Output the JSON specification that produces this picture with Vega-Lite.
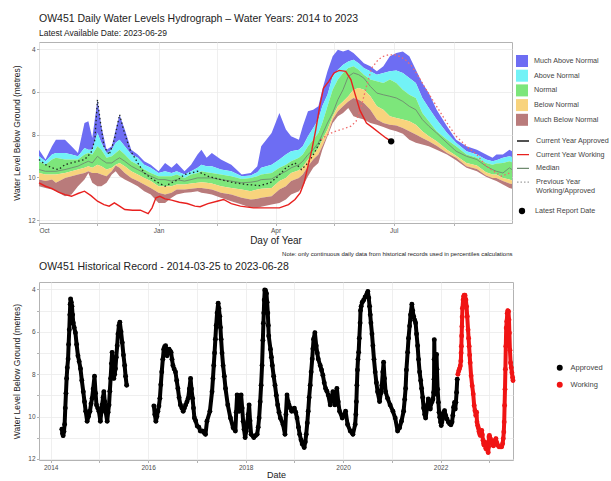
{
"$schema": "https://vega.github.io/schema/vega-lite/v6.json",
"padding": {"left": 12, "top": 13, "right": 0, "bottom": 0},
"background": "white",
"config": {
 "font": "Liberation Sans",
 "view": {"stroke": "#b3b3b3", "strokeWidth": 1},
 "axis": {"domain": false, "gridColor": "#ebebeb", "gridWidth": 0.8, "tickColor": "#b3b3b3", "tickSize": 2.5, "labelColor": "#4d4d4d", "labelFontSize": 6.5, "labelPadding": 1.5, "titleFontWeight": "normal", "titleColor": "#222222", "labelFont": "Liberation Sans", "titleFont": "Liberation Sans"},
 "legend": {"labelFontSize": 7.2, "labelColor": "#444444", "padding": 0, "labelFont": "Liberation Sans"},
 "title": {"fontWeight": "normal", "color": "#222222", "anchor": "start", "frame": "group", "font": "Liberation Sans"}
},
"datasets": {
"bands": [
{"date":"2022-10-01","max":8.71,"p90":9.02,"p75":9.25,"med":9.64,"p25":9.80,"p10":10.11,"min":10.42},
{"date":"2022-10-06","max":9.17,"p90":9.25,"p75":9.41,"med":9.72,"p25":9.87,"p10":10.18,"min":10.50},
{"date":"2022-10-11","max":8.55,"p90":8.94,"p75":9.17,"med":9.72,"p25":9.87,"p10":10.11,"min":10.57},
{"date":"2022-10-14","max":8.24,"p90":8.86,"p75":9.09,"med":9.72,"p25":9.87,"p10":10.26,"min":10.65},
{"date":"2022-10-21","max":8.24,"p90":8.86,"p75":9.17,"med":9.64,"p25":9.80,"p10":10.03,"min":10.89},
{"date":"2022-10-26","max":8.55,"p90":8.94,"p75":9.17,"med":9.56,"p25":9.72,"p10":9.95,"min":10.81},
{"date":"2022-10-31","max":8.86,"p90":9.02,"p75":9.17,"med":9.48,"p25":9.64,"p10":9.87,"min":10.42},
{"date":"2022-11-05","max":7.46,"p90":8.63,"p75":8.94,"med":9.33,"p25":9.56,"p10":9.80,"min":10.11},
{"date":"2022-11-08","max":7.38,"p90":8.71,"p75":8.86,"med":9.25,"p25":9.48,"p10":9.72,"min":9.80},
{"date":"2022-11-11","max":8.16,"p90":8.71,"p75":8.94,"med":9.33,"p25":9.56,"p10":9.80,"min":10.26},
{"date":"2022-11-15","max":6.37,"p90":7.93,"p75":8.55,"med":9.02,"p25":9.41,"p10":9.80,"min":10.42},
{"date":"2022-11-18","max":7.61,"p90":8.39,"p75":8.71,"med":9.17,"p25":9.48,"p10":9.87,"min":10.42},
{"date":"2022-11-22","max":8.71,"p90":8.86,"p75":9.09,"med":9.33,"p25":9.64,"p10":9.95,"min":10.26},
{"date":"2022-11-26","max":8.55,"p90":8.71,"p75":9.02,"med":9.33,"p25":9.56,"p10":9.72,"min":9.87},
{"date":"2022-11-29","max":7.77,"p90":8.39,"p75":8.86,"med":9.20,"p25":9.41,"p10":9.45,"min":9.72},
{"date":"2022-12-02","max":7.07,"p90":8.24,"p75":8.71,"med":9.09,"p25":9.33,"p10":9.56,"min":9.95},
{"date":"2022-12-06","max":7.77,"p90":8.55,"p75":8.94,"med":9.25,"p25":9.48,"p10":9.80,"min":10.11},
{"date":"2022-12-11","max":8.71,"p90":8.94,"p75":9.25,"med":9.48,"p25":9.72,"p10":10.03,"min":10.26},
{"date":"2022-12-16","max":8.94,"p90":9.09,"p75":9.41,"med":9.64,"p25":9.87,"p10":10.18,"min":10.42},
{"date":"2022-12-21","max":9.25,"p90":9.41,"p75":9.64,"med":9.80,"p25":10.03,"p10":10.34,"min":10.65},
{"date":"2022-12-26","max":9.41,"p90":9.56,"p75":9.80,"med":9.95,"p25":10.18,"p10":10.50,"min":10.81},
{"date":"2023-01-01","max":9.72,"p90":9.80,"p75":9.95,"med":10.11,"p25":10.42,"p10":10.73,"min":11.20},
{"date":"2023-01-06","max":9.33,"p90":9.72,"p75":9.95,"med":10.11,"p25":10.42,"p10":10.81,"min":11.20},
{"date":"2023-01-11","max":9.56,"p90":9.80,"p75":9.95,"med":10.18,"p25":10.42,"p10":10.73,"min":10.96},
{"date":"2023-01-15","max":9.33,"p90":9.72,"p75":9.87,"med":10.11,"p25":10.34,"p10":10.57,"min":10.81},
{"date":"2023-01-21","max":9.72,"p90":9.87,"p75":10.03,"med":10.18,"p25":10.34,"p10":10.57,"min":10.73},
{"date":"2023-01-26","max":9.41,"p90":9.72,"p75":9.87,"med":10.11,"p25":10.29,"p10":10.54,"min":10.70},
{"date":"2023-01-31","max":8.94,"p90":9.56,"p75":9.80,"med":10.03,"p25":10.26,"p10":10.50,"min":10.65},
{"date":"2023-02-03","max":8.71,"p90":9.41,"p75":9.72,"med":10.03,"p25":10.23,"p10":10.50,"min":10.73},
{"date":"2023-02-07","max":9.09,"p90":9.48,"p75":9.76,"med":10.03,"p25":10.26,"p10":10.54,"min":10.76},
{"date":"2023-02-11","max":8.86,"p90":9.48,"p75":9.80,"med":10.03,"p25":10.29,"p10":10.57,"min":10.81},
{"date":"2023-02-18","max":9.17,"p90":9.64,"p75":9.87,"med":10.11,"p25":10.42,"p10":10.73,"min":10.96},
{"date":"2023-02-26","max":9.41,"p90":9.72,"p75":9.95,"med":10.18,"p25":10.50,"p10":10.81,"min":11.12},
{"date":"2023-03-06","max":9.87,"p90":9.95,"p75":10.08,"med":10.26,"p25":10.57,"p10":10.96,"min":11.28},
{"date":"2023-03-13","max":9.80,"p90":9.92,"p75":10.03,"med":10.23,"p25":10.65,"p10":11.04,"min":11.43},
{"date":"2023-03-18","max":9.48,"p90":9.76,"p75":9.95,"med":10.18,"p25":10.57,"p10":11.01,"min":11.43},
{"date":"2023-03-21","max":8.55,"p90":9.56,"p75":9.87,"med":10.11,"p25":10.54,"p10":10.96,"min":11.38},
{"date":"2023-03-29","max":7.93,"p90":9.41,"p75":9.80,"med":10.08,"p25":10.50,"p10":10.89,"min":11.28},
{"date":"2023-04-04","max":6.99,"p90":9.17,"p75":9.56,"med":9.87,"p25":10.18,"p10":10.57,"min":11.20},
{"date":"2023-04-09","max":7.77,"p90":8.94,"p75":9.41,"med":9.72,"p25":10.03,"p10":10.42,"min":11.04},
{"date":"2023-04-13","max":8.08,"p90":8.78,"p75":9.25,"med":9.56,"p25":9.80,"p10":10.18,"min":10.81},
{"date":"2023-04-19","max":8.24,"p90":8.71,"p75":9.09,"med":9.41,"p25":9.67,"p10":10.03,"min":10.65},
{"date":"2023-04-22","max":7.61,"p90":8.55,"p75":8.94,"med":9.25,"p25":9.52,"p10":9.87,"min":10.42},
{"date":"2023-04-26","max":6.91,"p90":8.08,"p75":8.55,"med":8.94,"p25":9.17,"p10":9.48,"min":9.95},
{"date":"2023-04-30","max":6.84,"p90":7.69,"p75":8.24,"med":8.71,"p25":8.94,"p10":9.17,"min":9.56},
{"date":"2023-05-04","max":6.68,"p90":7.30,"p75":7.93,"med":8.39,"p25":8.63,"p10":8.94,"min":9.33},
{"date":"2023-05-07","max":5.90,"p90":6.68,"p75":7.46,"med":8.00,"p25":8.24,"p10":8.55,"min":8.71},
{"date":"2023-05-11","max":5.04,"p90":6.14,"p75":6.68,"med":7.46,"p25":7.77,"p10":8.00,"min":8.08},
{"date":"2023-05-15","max":4.34,"p90":5.28,"p75":5.90,"med":6.99,"p25":7.15,"p10":7.30,"min":7.46},
{"date":"2023-05-19","max":4.03,"p90":4.97,"p75":5.43,"med":6.37,"p25":6.68,"p10":6.91,"min":7.15},
{"date":"2023-05-23","max":4.11,"p90":4.73,"p75":5.12,"med":5.90,"p25":6.45,"p10":6.68,"min":6.99},
{"date":"2023-05-27","max":4.03,"p90":4.58,"p75":4.89,"med":5.28,"p25":6.21,"p10":6.45,"min":6.76},
{"date":"2023-05-31","max":4.19,"p90":4.50,"p75":4.81,"med":5.12,"p25":5.90,"p10":6.29,"min":7.15},
{"date":"2023-06-04","max":4.42,"p90":4.66,"p75":4.97,"med":5.20,"p25":5.82,"p10":6.37,"min":7.23},
{"date":"2023-06-08","max":4.66,"p90":4.89,"p75":5.20,"med":5.36,"p25":5.90,"p10":6.52,"min":7.30},
{"date":"2023-06-13","max":4.81,"p90":5.04,"p75":5.43,"med":5.75,"p25":6.21,"p10":6.84,"min":7.46},
{"date":"2023-06-18","max":5.04,"p90":5.20,"p75":5.51,"med":6.06,"p25":6.68,"p10":7.30,"min":7.54},
{"date":"2023-06-23","max":4.81,"p90":5.12,"p75":5.59,"med":6.14,"p25":6.84,"p10":7.46,"min":7.65},
{"date":"2023-06-28","max":4.34,"p90":5.04,"p75":5.43,"med":6.21,"p25":7.15,"p10":7.54,"min":7.77},
{"date":"2023-07-03","max":4.19,"p90":5.00,"p75":5.59,"med":6.29,"p25":7.23,"p10":7.58,"min":7.85},
{"date":"2023-07-08","max":4.11,"p90":5.12,"p75":5.90,"med":6.45,"p25":7.30,"p10":7.69,"min":7.96},
{"date":"2023-07-13","max":4.34,"p90":5.36,"p75":6.14,"med":6.68,"p25":7.38,"p10":7.85,"min":8.24},
{"date":"2023-07-18","max":4.97,"p90":5.59,"p75":6.29,"med":6.84,"p25":7.54,"p10":8.00,"min":8.39},
{"date":"2023-07-23","max":5.59,"p90":6.29,"p75":6.99,"med":7.30,"p25":7.85,"p10":8.16,"min":8.47},
{"date":"2023-07-28","max":6.06,"p90":6.76,"p75":7.38,"med":7.61,"p25":8.08,"p10":8.32,"min":8.55},
{"date":"2023-08-03","max":6.84,"p90":7.30,"p75":7.85,"med":7.93,"p25":8.32,"p10":8.52,"min":8.71},
{"date":"2023-08-11","max":7.61,"p90":7.93,"p75":8.24,"med":8.39,"p25":8.71,"p10":8.86,"min":8.94},
{"date":"2023-08-18","max":8.24,"p90":8.39,"p75":8.55,"med":8.78,"p25":8.99,"p10":9.09,"min":9.20},
{"date":"2023-08-26","max":8.55,"p90":8.78,"p75":8.94,"med":9.02,"p25":9.33,"p10":9.48,"min":9.56},
{"date":"2023-09-03","max":8.71,"p90":8.94,"p75":9.09,"med":9.17,"p25":9.45,"p10":9.61,"min":9.72},
{"date":"2023-09-10","max":8.94,"p90":9.17,"p75":9.33,"med":9.48,"p25":9.76,"p10":9.92,"min":9.98},
{"date":"2023-09-15","max":9.09,"p90":9.25,"p75":9.41,"med":9.64,"p25":9.87,"p10":10.03,"min":10.11},
{"date":"2023-09-18","max":8.94,"p90":9.20,"p75":9.36,"med":9.72,"p25":9.87,"p10":10.03,"min":10.18},
{"date":"2023-09-23","max":8.94,"p90":9.09,"p75":9.33,"med":9.80,"p25":10.03,"p10":10.18,"min":10.34},
{"date":"2023-09-28","max":8.71,"p90":9.02,"p75":9.25,"med":9.56,"p25":10.11,"p10":10.29,"min":10.50},
{"date":"2023-09-30","max":8.78,"p90":9.05,"p75":9.30,"med":9.64,"p25":10.15,"p10":10.32,"min":10.54}
],
"prev": [
{"date":"2022-10-01","depth":9.17,"status":"Approved"},{"date":"2022-10-06","depth":9.41,"status":"Approved"},{"date":"2022-10-11","depth":9.56,"status":"Approved"},{"date":"2022-10-16","depth":9.64,"status":"Approved"},{"date":"2022-10-21","depth":9.41,"status":"Approved"},{"date":"2022-10-26","depth":9.33,"status":"Approved"},{"date":"2022-10-31","depth":9.25,"status":"Approved"},{"date":"2022-11-05","depth":9.17,"status":"Approved"},{"date":"2022-11-10","depth":8.86,"status":"Approved"},{"date":"2022-11-13","depth":8.24,"status":"Approved"},{"date":"2022-11-15","depth":6.37,"status":"Approved"},{"date":"2022-11-17","depth":7.30,"status":"Approved"},{"date":"2022-11-20","depth":8.55,"status":"Approved"},{"date":"2022-11-24","depth":8.94,"status":"Approved"},{"date":"2022-11-28","depth":8.24,"status":"Approved"},{"date":"2022-12-02","depth":7.07,"status":"Approved"},{"date":"2022-12-05","depth":7.77,"status":"Approved"},{"date":"2022-12-10","depth":8.71,"status":"Approved"},{"date":"2022-12-16","depth":9.33,"status":"Approved"},{"date":"2022-12-21","depth":9.80,"status":"Approved"},{"date":"2022-12-26","depth":10.03,"status":"Approved"},{"date":"2023-01-01","depth":10.26,"status":"Approved"},{"date":"2023-01-06","depth":10.42,"status":"Approved"},{"date":"2023-01-11","depth":10.26,"status":"Approved"},{"date":"2023-01-16","depth":10.11,"status":"Approved"},{"date":"2023-01-21","depth":9.87,"status":"Approved"},{"date":"2023-01-26","depth":9.80,"status":"Approved"},{"date":"2023-01-31","depth":9.72,"status":"Approved"},{"date":"2023-02-08","depth":9.95,"status":"Approved"},{"date":"2023-02-18","depth":10.11,"status":"Approved"},{"date":"2023-02-28","depth":10.26,"status":"Approved"},{"date":"2023-03-10","depth":10.34,"status":"Approved"},{"date":"2023-03-20","depth":10.39,"status":"Approved"},{"date":"2023-03-28","depth":10.26,"status":"Approved"},{"date":"2023-04-03","depth":9.95,"status":"Approved"},{"date":"2023-04-09","depth":9.56,"status":"Approved"},{"date":"2023-04-16","depth":9.33,"status":"Approved"},{"date":"2023-04-21","depth":9.64,"status":"Approved"},{"date":"2023-04-26","depth":9.33,"status":"Approved"},{"date":"2023-05-01","depth":8.86,"status":"Approved"},{"date":"2023-05-06","depth":8.24,"status":"Approved"},
{"date":"2023-05-06","depth":8.24,"status":"Working"},{"date":"2023-05-11","depth":8.00,"status":"Working"},{"date":"2023-05-17","depth":7.85,"status":"Working"},{"date":"2023-05-23","depth":7.74,"status":"Working"},{"date":"2023-05-29","depth":7.61,"status":"Working"},{"date":"2023-06-02","depth":7.38,"status":"Working"},{"date":"2023-06-06","depth":6.68,"status":"Working"},{"date":"2023-06-10","depth":5.75,"status":"Working"},{"date":"2023-06-14","depth":4.89,"status":"Working"},{"date":"2023-06-19","depth":4.50,"status":"Working"},{"date":"2023-06-23","depth":4.34,"status":"Working"},{"date":"2023-06-27","depth":4.27,"status":"Working"},{"date":"2023-07-03","depth":4.27,"status":"Working"},{"date":"2023-07-10","depth":4.50,"status":"Working"},{"date":"2023-07-15","depth":4.81,"status":"Working"},{"date":"2023-07-20","depth":5.28,"status":"Working"},{"date":"2023-07-26","depth":5.90,"status":"Working"},{"date":"2023-08-03","depth":6.68,"status":"Working"},{"date":"2023-08-11","depth":7.46,"status":"Working"},{"date":"2023-08-18","depth":8.08,"status":"Working"},{"date":"2023-08-26","depth":8.55,"status":"Working"},{"date":"2023-09-03","depth":8.94,"status":"Working"},{"date":"2023-09-10","depth":9.48,"status":"Working"},{"date":"2023-09-16","depth":9.72,"status":"Working"},{"date":"2023-09-22","depth":9.95,"status":"Working"},{"date":"2023-09-28","depth":9.80,"status":"Working"},{"date":"2023-09-30","depth":9.76,"status":"Working"}
],
"cur": [
{"date":"2022-10-01","depth":10.26},{"date":"2022-10-06","depth":10.42},{"date":"2022-10-11","depth":10.53},{"date":"2022-10-16","depth":10.70},{"date":"2022-10-21","depth":10.81},{"date":"2022-10-26","depth":10.89},{"date":"2022-10-31","depth":10.76},{"date":"2022-11-05","depth":10.65},{"date":"2022-11-10","depth":10.86},{"date":"2022-11-15","depth":11.12},{"date":"2022-11-20","depth":11.28},{"date":"2022-11-24","depth":11.35},{"date":"2022-11-28","depth":11.20},{"date":"2022-12-02","depth":11.35},{"date":"2022-12-06","depth":11.51},{"date":"2022-12-12","depth":11.54},{"date":"2022-12-18","depth":11.54},{"date":"2022-12-24","depth":11.70},{"date":"2022-12-27","depth":11.43},{"date":"2022-12-30","depth":10.96},{"date":"2023-01-02","depth":10.89},{"date":"2023-01-06","depth":11.01},{"date":"2023-01-11","depth":11.07},{"date":"2023-01-17","depth":11.17},{"date":"2023-01-23","depth":11.23},{"date":"2023-01-29","depth":11.35},{"date":"2023-02-02","depth":11.38},{"date":"2023-02-08","depth":11.23},{"date":"2023-02-15","depth":11.12},{"date":"2023-02-20","depth":11.04},{"date":"2023-02-26","depth":11.23},{"date":"2023-03-05","depth":11.35},{"date":"2023-03-15","depth":11.43},{"date":"2023-03-25","depth":11.43},{"date":"2023-04-04","depth":11.43},{"date":"2023-04-11","depth":11.28},{"date":"2023-04-16","depth":11.04},{"date":"2023-04-20","depth":10.73},{"date":"2023-04-23","depth":10.26},{"date":"2023-04-26","depth":9.48},{"date":"2023-04-29","depth":8.71},{"date":"2023-05-02","depth":7.77},{"date":"2023-05-05","depth":6.68},{"date":"2023-05-08","depth":5.82},{"date":"2023-05-12","depth":5.51},{"date":"2023-05-16","depth":5.12},{"date":"2023-05-20","depth":5.00},{"date":"2023-05-25","depth":5.04},{"date":"2023-05-29","depth":5.43},{"date":"2023-06-01","depth":6.06},{"date":"2023-06-05","depth":6.87},{"date":"2023-06-10","depth":7.46},{"date":"2023-06-15","depth":7.69},{"date":"2023-06-20","depth":7.93},{"date":"2023-06-25","depth":8.16},{"date":"2023-06-29","depth":8.32}
],
"latest": [{"date":"2023-06-29","depth":8.32}],
"hist": [
{"date":"2014-03-25","depth":10.6,"status":"Approved"},{"date":"2014-03-30","depth":10.8,"status":"Approved"},{"date":"2014-04-04","depth":10.9,"status":"Approved"},{"date":"2014-04-10","depth":10.7,"status":"Approved"},{"date":"2014-04-15","depth":10.37,"status":"Approved"},{"date":"2014-04-20","depth":9.6,"status":"Approved"},{"date":"2014-04-25","depth":8.9,"status":"Approved"},{"date":"2014-04-30","depth":8.2,"status":"Approved"},{"date":"2014-05-05","depth":7.7,"status":"Approved"},{"date":"2014-05-11","depth":7.28,"status":"Approved"},{"date":"2014-05-15","depth":6.6,"status":"Approved"},{"date":"2014-05-20","depth":5.9,"status":"Approved"},{"date":"2014-05-24","depth":5.2,"status":"Approved"},{"date":"2014-05-27","depth":4.7,"status":"Approved"},{"date":"2014-05-30","depth":4.45,"status":"Approved"},{"date":"2014-06-04","depth":4.6,"status":"Approved"},{"date":"2014-06-09","depth":4.8,"status":"Approved"},{"date":"2014-06-14","depth":5.2,"status":"Approved"},{"date":"2014-06-19","depth":5.58,"status":"Approved"},{"date":"2014-06-26","depth":5.8,"status":"Approved"},{"date":"2014-07-05","depth":6.04,"status":"Approved"},{"date":"2014-07-14","depth":6.6,"status":"Approved"},{"date":"2014-07-24","depth":7.13,"status":"Approved"},{"date":"2014-08-02","depth":7.4,"status":"Approved"},{"date":"2014-08-12","depth":7.74,"status":"Approved"},{"date":"2014-08-22","depth":8.3,"status":"Approved"},{"date":"2014-09-02","depth":8.83,"status":"Approved"},{"date":"2014-09-11","depth":9.3,"status":"Approved"},{"date":"2014-09-20","depth":9.75,"status":"Approved"},{"date":"2014-10-01","depth":10.22,"status":"Approved"},{"date":"2014-10-11","depth":10.0,"status":"Approved"},{"date":"2014-10-22","depth":9.75,"status":"Approved"},{"date":"2014-10-30","depth":9.4,"status":"Approved"},{"date":"2014-11-07","depth":9.14,"status":"Approved"},{"date":"2014-11-15","depth":8.7,"status":"Approved"},{"date":"2014-11-25","depth":8.1,"status":"Approved"},{"date":"2014-12-03","depth":8.9,"status":"Approved"},{"date":"2014-12-10","depth":9.45,"status":"Approved"},{"date":"2014-12-19","depth":9.6,"status":"Approved"},{"date":"2014-12-28","depth":9.75,"status":"Approved"},{"date":"2015-01-08","depth":10.22,"status":"Approved"},{"date":"2015-01-15","depth":9.8,"status":"Approved"},{"date":"2015-01-21","depth":9.45,"status":"Approved"},{"date":"2015-01-28","depth":9.1,"status":"Approved"},{"date":"2015-02-03","depth":8.83,"status":"Approved"},{"date":"2015-02-10","depth":9.3,"status":"Approved"},{"date":"2015-02-16","depth":9.75,"status":"Approved"},{"date":"2015-02-28","depth":10.22,"status":"Approved"},{"date":"2015-03-07","depth":9.8,"status":"Approved"},{"date":"2015-03-14","depth":9.45,"status":"Approved"},{"date":"2015-03-20","depth":8.8,"status":"Approved"},{"date":"2015-03-26","depth":8.2,"status":"Approved"},{"date":"2015-04-01","depth":7.5,"status":"Approved"},{"date":"2015-04-06","depth":6.97,"status":"Approved"},{"date":"2015-04-12","depth":7.6,"status":"Approved"},{"date":"2015-04-19","depth":8.2,"status":"Approved"},{"date":"2015-04-25","depth":8.0,"status":"Approved"},{"date":"2015-05-01","depth":7.74,"status":"Approved"},{"date":"2015-05-07","depth":7.2,"status":"Approved"},{"date":"2015-05-14","depth":6.66,"status":"Approved"},{"date":"2015-05-20","depth":6.1,"status":"Approved"},{"date":"2015-05-27","depth":5.7,"status":"Approved"},{"date":"2015-06-03","depth":5.55,"status":"Approved"},{"date":"2015-06-12","depth":6.0,"status":"Approved"},{"date":"2015-06-21","depth":6.51,"status":"Approved"},{"date":"2015-06-30","depth":7.1,"status":"Approved"},{"date":"2015-07-09","depth":7.59,"status":"Approved"},{"date":"2015-07-16","depth":8.1,"status":"Approved"},{"date":"2015-07-24","depth":8.52,"status":"Approved"},
{"date":"2016-02-13","depth":9.5,"status":"Approved"},{"date":"2016-02-20","depth":9.9,"status":"Approved"},{"date":"2016-02-28","depth":10.22,"status":"Approved"},{"date":"2016-03-07","depth":10.0,"status":"Approved"},{"date":"2016-03-14","depth":9.75,"status":"Approved"},{"date":"2016-03-22","depth":9.5,"status":"Approved"},{"date":"2016-03-29","depth":9.14,"status":"Approved"},{"date":"2016-04-05","depth":8.5,"status":"Approved"},{"date":"2016-04-12","depth":7.9,"status":"Approved"},{"date":"2016-04-20","depth":7.3,"status":"Approved"},{"date":"2016-04-27","depth":6.82,"status":"Approved"},{"date":"2016-05-04","depth":6.7,"status":"Approved"},{"date":"2016-05-11","depth":6.66,"status":"Approved"},{"date":"2016-05-17","depth":6.9,"status":"Approved"},{"date":"2016-05-22","depth":7.13,"status":"Approved"},{"date":"2016-05-29","depth":6.95,"status":"Approved"},{"date":"2016-06-06","depth":6.82,"status":"Approved"},{"date":"2016-06-14","depth":6.9,"status":"Approved"},{"date":"2016-06-21","depth":6.97,"status":"Approved"},{"date":"2016-06-28","depth":7.3,"status":"Approved"},{"date":"2016-07-05","depth":7.59,"status":"Approved"},{"date":"2016-07-14","depth":7.75,"status":"Approved"},{"date":"2016-07-24","depth":7.9,"status":"Approved"},{"date":"2016-08-02","depth":8.3,"status":"Approved"},{"date":"2016-08-11","depth":8.67,"status":"Approved"},{"date":"2016-08-20","depth":9.1,"status":"Approved"},{"date":"2016-08-30","depth":9.45,"status":"Approved"},{"date":"2016-09-10","depth":9.6,"status":"Approved"},{"date":"2016-09-20","depth":9.75,"status":"Approved"},{"date":"2016-09-29","depth":9.6,"status":"Approved"},{"date":"2016-10-08","depth":9.45,"status":"Approved"},{"date":"2016-10-18","depth":9.3,"status":"Approved"},{"date":"2016-10-27","depth":9.14,"status":"Approved"},{"date":"2016-11-05","depth":8.7,"status":"Approved"},{"date":"2016-11-14","depth":8.2,"status":"Approved"},{"date":"2016-11-21","depth":8.7,"status":"Approved"},{"date":"2016-11-29","depth":9.14,"status":"Approved"},{"date":"2016-12-06","depth":9.6,"status":"Approved"},{"date":"2016-12-13","depth":10.07,"status":"Approved"},{"date":"2016-12-22","depth":10.2,"status":"Approved"},{"date":"2017-01-03","depth":10.45,"status":"Approved"},{"date":"2017-01-15","depth":10.5,"status":"Approved"},{"date":"2017-01-26","depth":10.68,"status":"Approved"},{"date":"2017-02-09","depth":10.68,"status":"Approved"},{"date":"2017-02-22","depth":10.75,"status":"Approved"},{"date":"2017-03-06","depth":10.84,"status":"Approved"},{"date":"2017-03-17","depth":10.22,"status":"Approved"},{"date":"2017-04-08","depth":9.75,"status":"Approved"},{"date":"2017-04-24","depth":8.83,"status":"Approved"},{"date":"2017-05-01","depth":8.2,"status":"Approved"},{"date":"2017-05-07","depth":7.59,"status":"Approved"},{"date":"2017-05-13","depth":7.0,"status":"Approved"},{"date":"2017-05-19","depth":6.35,"status":"Approved"},{"date":"2017-05-25","depth":5.7,"status":"Approved"},{"date":"2017-06-01","depth":5.11,"status":"Approved"},{"date":"2017-06-09","depth":4.65,"status":"Approved"},{"date":"2017-06-15","depth":4.9,"status":"Approved"},{"date":"2017-06-21","depth":5.27,"status":"Approved"},{"date":"2017-06-26","depth":5.8,"status":"Approved"},{"date":"2017-07-01","depth":6.35,"status":"Approved"},{"date":"2017-07-08","depth":7.0,"status":"Approved"},{"date":"2017-07-16","depth":7.59,"status":"Approved"},{"date":"2017-07-25","depth":8.1,"status":"Approved"},{"date":"2017-08-03","depth":8.67,"status":"Approved"},{"date":"2017-08-20","depth":9.45,"status":"Approved"},{"date":"2017-09-09","depth":10.07,"status":"Approved"},{"date":"2017-09-29","depth":10.53,"status":"Approved"},{"date":"2017-10-16","depth":10.68,"status":"Approved"},{"date":"2017-10-22","depth":9.8,"status":"Approved"},{"date":"2017-10-29","depth":8.98,"status":"Approved"},{"date":"2017-11-05","depth":9.4,"status":"Approved"},{"date":"2017-11-13","depth":9.75,"status":"Approved"},{"date":"2017-11-20","depth":9.4,"status":"Approved"},{"date":"2017-11-28","depth":8.98,"status":"Approved"},{"date":"2017-12-06","depth":9.6,"status":"Approved"},{"date":"2017-12-13","depth":10.22,"status":"Approved"},{"date":"2017-12-20","depth":10.6,"status":"Approved"},{"date":"2017-12-28","depth":10.99,"status":"Approved"},{"date":"2018-01-05","depth":10.7,"status":"Approved"},{"date":"2018-01-12","depth":10.37,"status":"Approved"},{"date":"2018-01-20","depth":9.9,"status":"Approved"},{"date":"2018-01-27","depth":9.45,"status":"Approved"},{"date":"2018-02-03","depth":10.2,"status":"Approved"},{"date":"2018-02-11","depth":10.84,"status":"Approved"},{"date":"2018-03-03","depth":10.99,"status":"Approved"},{"date":"2018-03-15","depth":10.9,"status":"Approved"},{"date":"2018-03-28","depth":10.84,"status":"Approved"},{"date":"2018-04-05","depth":10.5,"status":"Approved"},{"date":"2018-04-12","depth":10.07,"status":"Approved"},{"date":"2018-04-20","depth":9.3,"status":"Approved"},{"date":"2018-04-27","depth":8.52,"status":"Approved"},{"date":"2018-05-04","depth":7.59,"status":"Approved"},{"date":"2018-05-10","depth":6.4,"status":"Approved"},{"date":"2018-05-14","depth":5.6,"status":"Approved"},{"date":"2018-05-17","depth":5.11,"status":"Approved"},{"date":"2018-05-20","depth":4.5,"status":"Approved"},{"date":"2018-05-24","depth":4.03,"status":"Approved"},{"date":"2018-05-30","depth":4.05,"status":"Approved"},{"date":"2018-06-06","depth":4.19,"status":"Approved"},{"date":"2018-06-11","depth":4.6,"status":"Approved"},{"date":"2018-06-16","depth":5.11,"status":"Approved"},{"date":"2018-06-20","depth":5.7,"status":"Approved"},{"date":"2018-06-23","depth":6.2,"status":"Approved"},{"date":"2018-07-06","depth":6.82,"status":"Approved"},{"date":"2018-07-13","depth":7.2,"status":"Approved"},{"date":"2018-07-20","depth":7.59,"status":"Approved"},{"date":"2018-07-30","depth":8.1,"status":"Approved"},{"date":"2018-08-09","depth":8.52,"status":"Approved"},{"date":"2018-08-19","depth":9.0,"status":"Approved"},{"date":"2018-08-29","depth":9.45,"status":"Approved"},{"date":"2018-09-08","depth":9.8,"status":"Approved"},{"date":"2018-09-18","depth":10.07,"status":"Approved"},{"date":"2018-10-08","depth":10.37,"status":"Approved"},{"date":"2018-10-23","depth":10.84,"status":"Approved"},{"date":"2018-10-30","depth":9.9,"status":"Approved"},{"date":"2018-11-07","depth":8.98,"status":"Approved"},{"date":"2018-11-15","depth":9.3,"status":"Approved"},{"date":"2018-11-22","depth":9.45,"status":"Approved"},{"date":"2018-12-02","depth":9.6,"status":"Approved"},{"date":"2018-12-12","depth":9.75,"status":"Approved"},{"date":"2019-01-01","depth":9.6,"status":"Approved"},{"date":"2019-01-11","depth":9.8,"status":"Approved"},{"date":"2019-01-21","depth":10.07,"status":"Approved"},{"date":"2019-02-01","depth":10.5,"status":"Approved"},{"date":"2019-02-10","depth":10.84,"status":"Approved"},{"date":"2019-02-20","depth":11.1,"status":"Approved"},{"date":"2019-03-01","depth":11.3,"status":"Approved"},{"date":"2019-03-16","depth":11.46,"status":"Approved"},{"date":"2019-03-24","depth":11.2,"status":"Approved"},{"date":"2019-03-31","depth":10.84,"status":"Approved"},{"date":"2019-04-08","depth":10.3,"status":"Approved"},{"date":"2019-04-15","depth":9.75,"status":"Approved"},{"date":"2019-04-22","depth":9.1,"status":"Approved"},{"date":"2019-04-30","depth":8.52,"status":"Approved"},{"date":"2019-05-07","depth":7.9,"status":"Approved"},{"date":"2019-05-15","depth":7.28,"status":"Approved"},{"date":"2019-05-20","depth":6.8,"status":"Approved"},{"date":"2019-05-25","depth":6.35,"status":"Approved"},{"date":"2019-06-04","depth":6.04,"status":"Approved"},{"date":"2019-06-14","depth":6.66,"status":"Approved"},{"date":"2019-06-22","depth":7.0,"status":"Approved"},{"date":"2019-06-29","depth":7.28,"status":"Approved"},{"date":"2019-07-14","depth":7.59,"status":"Approved"},{"date":"2019-07-24","depth":7.8,"status":"Approved"},{"date":"2019-08-03","depth":8.05,"status":"Approved"},{"date":"2019-08-13","depth":8.4,"status":"Approved"},{"date":"2019-08-23","depth":8.67,"status":"Approved"},{"date":"2019-09-02","depth":8.8,"status":"Approved"},{"date":"2019-09-12","depth":8.98,"status":"Approved"},{"date":"2019-09-27","depth":9.45,"status":"Approved"},{"date":"2019-10-07","depth":9.1,"status":"Approved"},{"date":"2019-10-17","depth":8.83,"status":"Approved"},{"date":"2019-11-01","depth":9.45,"status":"Approved"},{"date":"2019-11-08","depth":9.0,"status":"Approved"},{"date":"2019-11-16","depth":8.67,"status":"Approved"},{"date":"2019-11-26","depth":9.3,"status":"Approved"},{"date":"2019-12-06","depth":9.75,"status":"Approved"},{"date":"2019-12-26","depth":10.07,"status":"Approved"},{"date":"2020-01-10","depth":9.9,"status":"Approved"},{"date":"2020-01-20","depth":9.75,"status":"Approved"},{"date":"2020-02-04","depth":10.37,"status":"Approved"},{"date":"2020-02-24","depth":10.68,"status":"Approved"},{"date":"2020-03-15","depth":10.84,"status":"Approved"},{"date":"2020-04-01","depth":10.37,"status":"Approved"},{"date":"2020-04-06","depth":9.9,"status":"Approved"},{"date":"2020-04-10","depth":9.3,"status":"Approved"},{"date":"2020-04-14","depth":8.52,"status":"Approved"},{"date":"2020-04-18","depth":7.8,"status":"Approved"},{"date":"2020-04-22","depth":7.3,"status":"Approved"},{"date":"2020-04-27","depth":6.97,"status":"Approved"},{"date":"2020-05-02","depth":6.3,"status":"Approved"},{"date":"2020-05-08","depth":5.58,"status":"Approved"},{"date":"2020-05-11","depth":5.0,"status":"Approved"},{"date":"2020-05-16","depth":4.8,"status":"Approved"},{"date":"2020-05-24","depth":4.6,"status":"Approved"},{"date":"2020-06-04","depth":4.5,"status":"Approved"},{"date":"2020-06-15","depth":4.35,"status":"Approved"},{"date":"2020-06-29","depth":4.19,"status":"Approved"},{"date":"2020-07-05","depth":4.1,"status":"Approved"},{"date":"2020-07-12","depth":4.4,"status":"Approved"},{"date":"2020-07-18","depth":4.8,"status":"Approved"},{"date":"2020-07-23","depth":5.2,"status":"Approved"},{"date":"2020-07-28","depth":5.58,"status":"Approved"},{"date":"2020-08-05","depth":6.1,"status":"Approved"},{"date":"2020-08-12","depth":6.66,"status":"Approved"},{"date":"2020-08-20","depth":7.3,"status":"Approved"},{"date":"2020-08-29","depth":7.9,"status":"Approved"},{"date":"2020-09-07","depth":8.4,"status":"Approved"},{"date":"2020-09-16","depth":8.83,"status":"Approved"},{"date":"2020-10-01","depth":9.29,"status":"Approved"},{"date":"2020-10-10","depth":8.9,"status":"Approved"},{"date":"2020-10-18","depth":8.52,"status":"Approved"},{"date":"2020-10-25","depth":7.9,"status":"Approved"},{"date":"2020-10-31","depth":7.44,"status":"Approved"},{"date":"2020-11-07","depth":8.2,"status":"Approved"},{"date":"2020-11-15","depth":8.83,"status":"Approved"},{"date":"2020-11-30","depth":9.14,"status":"Approved"},{"date":"2020-12-19","depth":9.45,"status":"Approved"},{"date":"2021-01-09","depth":9.75,"status":"Approved"},{"date":"2021-01-26","depth":10.07,"status":"Approved"},{"date":"2021-02-13","depth":10.68,"status":"Approved"},{"date":"2021-02-28","depth":10.53,"status":"Approved"},{"date":"2021-03-14","depth":10.22,"status":"Approved"},{"date":"2021-03-30","depth":9.75,"status":"Approved"},{"date":"2021-04-07","depth":9.2,"status":"Approved"},{"date":"2021-04-14","depth":8.67,"status":"Approved"},{"date":"2021-04-20","depth":7.8,"status":"Approved"},{"date":"2021-04-29","depth":6.97,"status":"Approved"},{"date":"2021-05-06","depth":6.3,"status":"Approved"},{"date":"2021-05-14","depth":5.73,"status":"Approved"},{"date":"2021-05-21","depth":5.2,"status":"Approved"},{"date":"2021-05-31","depth":4.7,"status":"Approved"},{"date":"2021-06-06","depth":5.0,"status":"Approved"},{"date":"2021-06-13","depth":5.27,"status":"Approved"},{"date":"2021-06-21","depth":5.45,"status":"Approved"},{"date":"2021-06-28","depth":5.58,"status":"Approved"},{"date":"2021-07-05","depth":6.1,"status":"Approved"},{"date":"2021-07-13","depth":6.66,"status":"Approved"},{"date":"2021-07-20","depth":7.3,"status":"Approved"},{"date":"2021-07-28","depth":7.9,"status":"Approved"},{"date":"2021-08-05","depth":8.3,"status":"Approved"},{"date":"2021-08-12","depth":8.67,"status":"Approved"},{"date":"2021-08-20","depth":9.1,"status":"Approved"},{"date":"2021-08-27","depth":9.6,"status":"Approved"},{"date":"2021-09-04","depth":9.9,"status":"Approved"},{"date":"2021-09-11","depth":10.07,"status":"Approved"},{"date":"2021-09-25","depth":9.45,"status":"Approved"},
{"date":"2021-10-01","depth":9.17,"status":"Approved"},{"date":"2021-10-06","depth":9.41,"status":"Approved"},{"date":"2021-10-11","depth":9.56,"status":"Approved"},{"date":"2021-10-16","depth":9.64,"status":"Approved"},{"date":"2021-10-21","depth":9.41,"status":"Approved"},{"date":"2021-10-26","depth":9.33,"status":"Approved"},{"date":"2021-10-31","depth":9.25,"status":"Approved"},{"date":"2021-11-05","depth":9.17,"status":"Approved"},{"date":"2021-11-10","depth":8.86,"status":"Approved"},{"date":"2021-11-13","depth":8.24,"status":"Approved"},{"date":"2021-11-14","depth":7.3,"status":"Approved"},{"date":"2021-11-15","depth":6.37,"status":"Approved"},{"date":"2021-11-17","depth":7.30,"status":"Approved"},{"date":"2021-11-20","depth":8.55,"status":"Approved"},{"date":"2021-11-24","depth":8.94,"status":"Approved"},{"date":"2021-11-28","depth":8.24,"status":"Approved"},{"date":"2021-12-02","depth":7.07,"status":"Approved"},{"date":"2021-12-05","depth":7.77,"status":"Approved"},{"date":"2021-12-10","depth":8.71,"status":"Approved"},{"date":"2021-12-16","depth":9.33,"status":"Approved"},{"date":"2021-12-21","depth":9.80,"status":"Approved"},{"date":"2021-12-26","depth":10.03,"status":"Approved"},{"date":"2022-01-01","depth":10.26,"status":"Approved"},{"date":"2022-01-06","depth":10.42,"status":"Approved"},{"date":"2022-01-11","depth":10.26,"status":"Approved"},{"date":"2022-01-16","depth":10.11,"status":"Approved"},{"date":"2022-01-21","depth":9.87,"status":"Approved"},{"date":"2022-01-26","depth":9.80,"status":"Approved"},{"date":"2022-01-31","depth":9.72,"status":"Approved"},{"date":"2022-02-08","depth":9.95,"status":"Approved"},{"date":"2022-02-18","depth":10.11,"status":"Approved"},{"date":"2022-02-28","depth":10.26,"status":"Approved"},{"date":"2022-03-10","depth":10.34,"status":"Approved"},{"date":"2022-03-20","depth":10.39,"status":"Approved"},{"date":"2022-03-28","depth":10.26,"status":"Approved"},{"date":"2022-04-03","depth":9.95,"status":"Approved"},{"date":"2022-04-09","depth":9.56,"status":"Approved"},{"date":"2022-04-16","depth":9.33,"status":"Approved"},{"date":"2022-04-21","depth":9.64,"status":"Approved"},{"date":"2022-04-26","depth":9.33,"status":"Approved"},{"date":"2022-05-01","depth":8.86,"status":"Approved"},{"date":"2022-05-06","depth":8.24,"status":"Approved"},
{"date":"2022-05-11","depth":8.00,"status":"Working"},{"date":"2022-05-17","depth":7.85,"status":"Working"},{"date":"2022-05-23","depth":7.74,"status":"Working"},{"date":"2022-05-29","depth":7.61,"status":"Working"},{"date":"2022-06-02","depth":7.38,"status":"Working"},{"date":"2022-06-04","depth":7.0,"status":"Working"},{"date":"2022-06-06","depth":6.68,"status":"Working"},{"date":"2022-06-08","depth":6.2,"status":"Working"},{"date":"2022-06-10","depth":5.75,"status":"Working"},{"date":"2022-06-12","depth":5.3,"status":"Working"},{"date":"2022-06-14","depth":4.89,"status":"Working"},{"date":"2022-06-19","depth":4.50,"status":"Working"},{"date":"2022-06-23","depth":4.34,"status":"Working"},{"date":"2022-06-27","depth":4.27,"status":"Working"},{"date":"2022-07-03","depth":4.27,"status":"Working"},{"date":"2022-07-10","depth":4.50,"status":"Working"},{"date":"2022-07-15","depth":4.81,"status":"Working"},{"date":"2022-07-20","depth":5.28,"status":"Working"},{"date":"2022-07-26","depth":5.90,"status":"Working"},{"date":"2022-07-30","depth":6.3,"status":"Working"},{"date":"2022-08-03","depth":6.68,"status":"Working"},{"date":"2022-08-07","depth":7.1,"status":"Working"},{"date":"2022-08-11","depth":7.46,"status":"Working"},{"date":"2022-08-18","depth":8.08,"status":"Working"},{"date":"2022-08-26","depth":8.55,"status":"Working"},{"date":"2022-09-03","depth":8.94,"status":"Working"},{"date":"2022-09-10","depth":9.48,"status":"Working"},{"date":"2022-09-16","depth":9.72,"status":"Working"},{"date":"2022-09-22","depth":9.95,"status":"Working"},{"date":"2022-09-28","depth":9.80,"status":"Working"},
{"date":"2022-10-01","depth":10.26,"status":"Working"},{"date":"2022-10-06","depth":10.42,"status":"Working"},{"date":"2022-10-11","depth":10.53,"status":"Working"},{"date":"2022-10-16","depth":10.70,"status":"Working"},{"date":"2022-10-21","depth":10.81,"status":"Working"},{"date":"2022-10-26","depth":10.89,"status":"Working"},{"date":"2022-10-31","depth":10.76,"status":"Working"},{"date":"2022-11-05","depth":10.65,"status":"Working"},{"date":"2022-11-10","depth":10.86,"status":"Working"},{"date":"2022-11-15","depth":11.12,"status":"Working"},{"date":"2022-11-20","depth":11.28,"status":"Working"},{"date":"2022-11-24","depth":11.35,"status":"Working"},{"date":"2022-11-28","depth":11.20,"status":"Working"},{"date":"2022-12-02","depth":11.35,"status":"Working"},{"date":"2022-12-06","depth":11.51,"status":"Working"},{"date":"2022-12-12","depth":11.54,"status":"Working"},{"date":"2022-12-18","depth":11.54,"status":"Working"},{"date":"2022-12-24","depth":11.70,"status":"Working"},{"date":"2022-12-27","depth":11.43,"status":"Working"},{"date":"2022-12-30","depth":10.96,"status":"Working"},{"date":"2023-01-02","depth":10.89,"status":"Working"},{"date":"2023-01-06","depth":11.01,"status":"Working"},{"date":"2023-01-11","depth":11.07,"status":"Working"},{"date":"2023-01-17","depth":11.17,"status":"Working"},{"date":"2023-01-23","depth":11.23,"status":"Working"},{"date":"2023-01-29","depth":11.35,"status":"Working"},{"date":"2023-02-02","depth":11.38,"status":"Working"},{"date":"2023-02-08","depth":11.23,"status":"Working"},{"date":"2023-02-15","depth":11.12,"status":"Working"},{"date":"2023-02-20","depth":11.04,"status":"Working"},{"date":"2023-02-26","depth":11.23,"status":"Working"},{"date":"2023-03-05","depth":11.35,"status":"Working"},{"date":"2023-03-15","depth":11.43,"status":"Working"},{"date":"2023-03-25","depth":11.43,"status":"Working"},{"date":"2023-04-04","depth":11.43,"status":"Working"},{"date":"2023-04-11","depth":11.28,"status":"Working"},{"date":"2023-04-16","depth":11.04,"status":"Working"},{"date":"2023-04-20","depth":10.73,"status":"Working"},{"date":"2023-04-23","depth":10.26,"status":"Working"},{"date":"2023-04-26","depth":9.48,"status":"Working"},{"date":"2023-04-29","depth":8.71,"status":"Working"},{"date":"2023-05-02","depth":7.77,"status":"Working"},{"date":"2023-05-05","depth":6.68,"status":"Working"},{"date":"2023-05-08","depth":5.82,"status":"Working"},{"date":"2023-05-12","depth":5.51,"status":"Working"},{"date":"2023-05-16","depth":5.12,"status":"Working"},{"date":"2023-05-20","depth":5.00,"status":"Working"},{"date":"2023-05-25","depth":5.04,"status":"Working"},{"date":"2023-05-29","depth":5.43,"status":"Working"},{"date":"2023-06-01","depth":6.06,"status":"Working"},{"date":"2023-06-05","depth":6.87,"status":"Working"},{"date":"2023-06-10","depth":7.46,"status":"Working"},{"date":"2023-06-15","depth":7.69,"status":"Working"},{"date":"2023-06-20","depth":7.93,"status":"Working"},{"date":"2023-06-25","depth":8.16,"status":"Working"},{"date":"2023-06-28","depth":8.3,"status":"Working"}
]
},
"spacing": 4,
"vconcat": [
{
 "width": 473, "height": 181,
 "title": {"text": "OW451 Daily Water Levels Hydrograph – Water Years: 2014 to 2023", "subtitle": "Latest Available Date: 2023-06-29", "fontSize": 10.5, "subtitleFontSize": 8.5, "subtitleColor": "#222222", "subtitlePadding": 4, "offset": 5, "subtitleFont": "Liberation Sans"},
 "resolve": {"axis": {"x": "independent"}},
 "layer": [
  {"data": {"name": "bands"}, "mark": {"type": "area", "opacity": 1},
   "encoding": {
    "x": {"field": "date", "type": "temporal",
      "scale": {"type": "utc", "domain": [{"year": 2022, "month": 10, "date": 1, "utc": true}, {"year": 2023, "month": 9, "date": 30, "utc": true}]},
      "axis": {"title": "Day of Year", "titleFontSize": 10, "titlePadding": 2, "grid": true,
        "values": [{"year": 2022, "month": 10, "date": 1, "utc": true}, {"year": 2022, "month": 11, "date": 15, "utc": true}, {"year": 2023, "month": 1, "date": 1, "utc": true}, {"year": 2023, "month": 2, "date": 15, "utc": true}, {"year": 2023, "month": 4, "date": 1, "utc": true}, {"year": 2023, "month": 5, "date": 16, "utc": true}, {"year": 2023, "month": 7, "date": 1, "utc": true}, {"year": 2023, "month": 8, "date": 16, "utc": true}],
        "labelExpr": "utcdate(datum.value) === 1 ? utcFormat(datum.value, '%b') : ''"}},
    "y": {"field": "max", "type": "quantitative",
      "scale": {"domain": [3.67, 12.14], "reverse": true, "nice": false, "zero": false},
      "axis": {"title": "Water Level Below Ground (metres)", "titleFontSize": 8.5, "titlePadding": 6, "values": [4, 5, 6, 7, 8, 9, 10, 11, 12], "labelExpr": "datum.value % 2 === 0 ? datum.label : ''"}},
    "y2": {"field": "p90"},
    "fill": {"datum": "Much Above Normal",
      "scale": {"domain": ["Much Above Normal", "Above Normal", "Normal", "Below Normal", "Much Below Normal"], "range": ["#6d6df3", "#72f2f6", "#7de67b", "#f8d37d", "#b97b7b"]},
      "legend": {"title": null, "orient": "none", "legendX": 477, "legendY": 13, "symbolType": "square", "symbolSize": 144, "symbolStrokeWidth": 0, "symbolOpacity": 1, "rowPadding": 2.7, "labelOffset": 6}}
   }},
  {"data": {"name": "bands"}, "mark": {"type": "area", "opacity": 1},
   "encoding": {"x": {"field": "date", "type": "temporal", "axis": null}, "y": {"field": "p90", "type": "quantitative"}, "y2": {"field": "p75"}, "fill": {"datum": "Above Normal"}}},
  {"data": {"name": "bands"}, "mark": {"type": "area", "opacity": 1},
   "encoding": {"x": {"field": "date", "type": "temporal", "axis": null}, "y": {"field": "p75", "type": "quantitative"}, "y2": {"field": "p25"}, "fill": {"datum": "Normal"}}},
  {"data": {"name": "bands"}, "mark": {"type": "area", "opacity": 1},
   "encoding": {"x": {"field": "date", "type": "temporal", "axis": null}, "y": {"field": "p25", "type": "quantitative"}, "y2": {"field": "p10"}, "fill": {"datum": "Below Normal"}}},
  {"data": {"name": "bands"}, "mark": {"type": "area", "opacity": 1},
   "encoding": {"x": {"field": "date", "type": "temporal", "axis": null}, "y": {"field": "p10", "type": "quantitative"}, "y2": {"field": "min"}, "fill": {"datum": "Much Below Normal"}}},
  {"data": {"name": "bands"}, "mark": {"type": "line", "strokeWidth": 0.9},
   "encoding": {"x": {"field": "date", "type": "temporal", "axis": null}, "y": {"field": "med", "type": "quantitative"},
    "stroke": {"datum": "Median",
      "scale": {"domain": ["Current Year Approved", "Current Year Working", "Median", "Previous Year Working/Approved"], "range": ["#1a1a1a", "#e8211f", "#6f8a6f", "#a0a0a0"]},
      "legend": {"title": null, "orient": "none", "legendX": 477, "legendY": 92, "symbolType": "stroke", "symbolSize": 144, "symbolStrokeWidth": 1.3, "rowPadding": 2.7, "labelOffset": 6,
        "labelExpr": "datum.label === 'Previous Year Working/Approved' ? ['Previous Year', 'Working/Approved'] : datum.label",
        "encode": {"symbols": {"update": {"strokeDash": {"signal": "datum.value === 'Previous Year Working/Approved' ? [1.5, 2] : [1, 0]"}}}}}}}},
  {"data": {"name": "prev"}, "transform": [{"filter": "datum.status === 'Approved'"}], "mark": {"type": "line", "strokeWidth": 1.3, "strokeDash": [1.5, 2.5], "color": "#1f2a1f"},
   "encoding": {"x": {"field": "date", "type": "temporal", "axis": null}, "y": {"field": "depth", "type": "quantitative"}}},
  {"data": {"name": "prev"}, "transform": [{"filter": "datum.status === 'Working'"}], "mark": {"type": "line", "strokeWidth": 1.3, "strokeDash": [1.5, 2.5], "color": "#ef6a6a"},
   "encoding": {"x": {"field": "date", "type": "temporal", "axis": null}, "y": {"field": "depth", "type": "quantitative"}}},
  {"data": {"name": "cur"}, "mark": {"type": "line", "strokeWidth": 1.4},
   "encoding": {"x": {"field": "date", "type": "temporal", "axis": null}, "y": {"field": "depth", "type": "quantitative"},
    "stroke": {"datum": "Current Year Working"}}},
  {"data": {"name": "latest"}, "mark": {"type": "point", "filled": true, "size": 40, "color": "#000000", "opacity": 1},
   "encoding": {
    "x": {"field": "date", "type": "temporal", "axis": {"orient": "bottom", "title": "Note: only continuous daily data from historical records used in percentiles calculations", "titleFontSize": 6, "titleAnchor": "end", "titleAlign": "right", "labels": false, "ticks": false, "domain": false, "grid": false, "offset": 27, "titlePadding": 0, "titleColor": "#222222"}},
    "y": {"field": "depth", "type": "quantitative"},
    "shape": {"datum": "Latest Report Date", "scale": {"domain": ["Latest Report Date"], "range": ["circle"]},
      "legend": {"title": null, "orient": "none", "legendX": 479, "legendY": 165, "symbolSize": 40, "symbolFillColor": "#000000", "symbolStrokeColor": "#000000", "labelOffset": 9}}
   }}
 ]
},
{
 "width": 474, "height": 178,
 "title": {"text": "OW451 Historical Record - 2014-03-25 to 2023-06-28", "fontSize": 10.5, "offset": 10},
 "data": {"name": "hist"},
 "encoding": {
  "x": {"field": "date", "type": "temporal",
    "scale": {"type": "utc", "domain": [{"year": 2013, "month": 10, "date": 5, "utc": true}, {"year": 2023, "month": 6, "date": 28, "utc": true}]},
    "axis": {"title": "Date", "titleFontSize": 9, "titlePadding": 0, "grid": true,
      "values": [{"year": 2014, "month": 1, "date": 1, "utc": true}, {"year": 2015, "month": 1, "date": 1, "utc": true}, {"year": 2016, "month": 1, "date": 1, "utc": true}, {"year": 2017, "month": 1, "date": 1, "utc": true}, {"year": 2018, "month": 1, "date": 1, "utc": true}, {"year": 2019, "month": 1, "date": 1, "utc": true}, {"year": 2020, "month": 1, "date": 1, "utc": true}, {"year": 2021, "month": 1, "date": 1, "utc": true}, {"year": 2022, "month": 1, "date": 1, "utc": true}, {"year": 2023, "month": 1, "date": 1, "utc": true}],
      "labelExpr": "utcyear(datum.value) % 2 === 0 ? utcFormat(datum.value, '%Y') : ''"}},
  "y": {"field": "depth", "type": "quantitative",
    "scale": {"domain": [3.65, 12.05], "reverse": true, "nice": false, "zero": false},
    "axis": {"title": "Water Level Below Ground (metres)", "titleFontSize": 8.5, "titlePadding": 6, "values": [4, 5, 6, 7, 8, 9, 10, 11, 12], "labelExpr": "datum.value % 2 === 0 ? datum.label : ''"}},
  "color": {"field": "status", "type": "nominal",
    "scale": {"domain": ["Approved", "Working"], "range": ["#000000", "#f01414"]},
    "legend": {"title": null, "orient": "none", "legendX": 517, "legendY": 322, "symbolSize": 20, "symbolType": "circle", "labelOffset": 7, "rowPadding": 6, "labelFontSize": 7.5}}
 },
 "layer": [
  {"mark": {"type": "point", "filled": true, "size": 24, "opacity": 1}},
  {"transform": [{"filter": {"field": "date", "lt": {"year": 2016, "month": 1, "date": 1, "utc": true}}}], "mark": {"type": "line", "strokeWidth": 4, "strokeCap": "round", "strokeJoin": "round"}},
  {"transform": [{"filter": {"field": "date", "gte": {"year": 2016, "month": 1, "date": 1, "utc": true}}}], "mark": {"type": "line", "strokeWidth": 4, "strokeCap": "round", "strokeJoin": "round"}}
 ]
}
]
}
